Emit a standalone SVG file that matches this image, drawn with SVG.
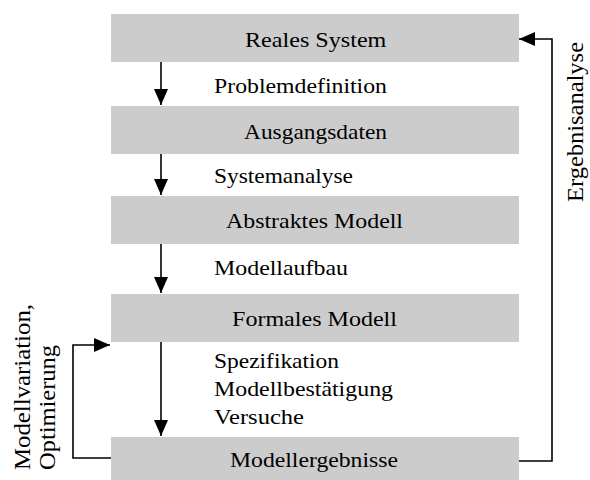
<svg xmlns="http://www.w3.org/2000/svg" width="590" height="480" viewBox="0 0 590 480">
  <style>
    .box { fill: #cccccc; stroke: none; }
    text { font-family: "Times New Roman", Times, "Liberation Serif", serif; fill: #000; }
    .lbl { font-size: 21px; }
    .side { font-size: 23px; }
    .wire { fill: none; stroke: #000; stroke-width: 1.6; }
  </style>
  <defs>
    <marker id="head" markerUnits="userSpaceOnUse" markerWidth="16" markerHeight="16" viewBox="0 0 16 14" refX="16" refY="7" orient="auto">
      <path d="M0,0 L16,7 L0,14 Z" fill="#000"/>
    </marker>
  </defs>

  <rect width="590" height="480" fill="#fff"/>

  <!-- process steps -->
  <g id="reales-system">
    <rect class="box" x="111" y="14" width="408" height="48"/>
    <text class="lbl" x="245" y="47" transform="translate(245,0) scale(1.15,1) translate(-245,0)">Reales System</text>
  </g>
  <g id="ausgangsdaten">
    <rect class="box" x="111" y="106" width="408" height="48"/>
    <text class="lbl" x="244" y="139" textLength="143" lengthAdjust="spacingAndGlyphs">Ausgangsdaten</text>
  </g>
  <g id="abstraktes-modell">
    <rect class="box" x="111" y="196" width="408" height="48"/>
    <text class="lbl" x="226" y="228" textLength="177" lengthAdjust="spacingAndGlyphs">Abstraktes Modell</text>
  </g>
  <g id="formales-modell">
    <rect class="box" x="111" y="294" width="408" height="48"/>
    <text class="lbl" x="232" y="326" textLength="165" lengthAdjust="spacingAndGlyphs">Formales Modell</text>
  </g>
  <g id="modellergebnisse">
    <rect class="box" x="111" y="437" width="408" height="43"/>
    <text class="lbl" x="230" y="467" textLength="168" lengthAdjust="spacingAndGlyphs">Modellergebnisse</text>
  </g>

  <!-- connectors -->
  <g id="connectors">
    <line class="wire" x1="161" y1="62" x2="161" y2="105" marker-end="url(#head)"/>
    <line class="wire" x1="161" y1="154" x2="161" y2="195" marker-end="url(#head)"/>
    <line class="wire" x1="161" y1="244" x2="161" y2="293" marker-end="url(#head)"/>
    <line class="wire" x1="161" y1="342" x2="161" y2="436" marker-end="url(#head)"/>
    <polyline class="wire" points="111,458 73,458 73,345 110,345" marker-end="url(#head)"/>
    <polyline class="wire" points="519,461 552,461 552,39 519,39" marker-end="url(#head)"/>
  </g>

  <!-- transition labels -->
  <g id="labels">
    <text class="lbl" x="214" y="93" textLength="173" lengthAdjust="spacingAndGlyphs">Problemdefinition</text>
    <text class="lbl" x="214" y="183" textLength="139" lengthAdjust="spacingAndGlyphs">Systemanalyse</text>
    <text class="lbl" x="214" y="275" textLength="134" lengthAdjust="spacingAndGlyphs">Modellaufbau</text>
    <text class="lbl" x="214" y="368" textLength="125" lengthAdjust="spacingAndGlyphs">Spezifikation</text>
    <text class="lbl" x="214" y="396" textLength="179" lengthAdjust="spacingAndGlyphs">Modellbestätigung</text>
    <text class="lbl" x="214" y="424" textLength="90" lengthAdjust="spacingAndGlyphs">Versuche</text>
    <text class="side" transform="translate(30,470) rotate(-90)" textLength="166" lengthAdjust="spacingAndGlyphs">Modellvariation,</text>
    <text class="side" transform="translate(55,470) rotate(-90)" textLength="125" lengthAdjust="spacingAndGlyphs">Optimierung</text>
    <text class="side" transform="translate(583,202) rotate(-90)" textLength="160" lengthAdjust="spacingAndGlyphs">Ergebnisanalyse</text>
  </g>
</svg>
